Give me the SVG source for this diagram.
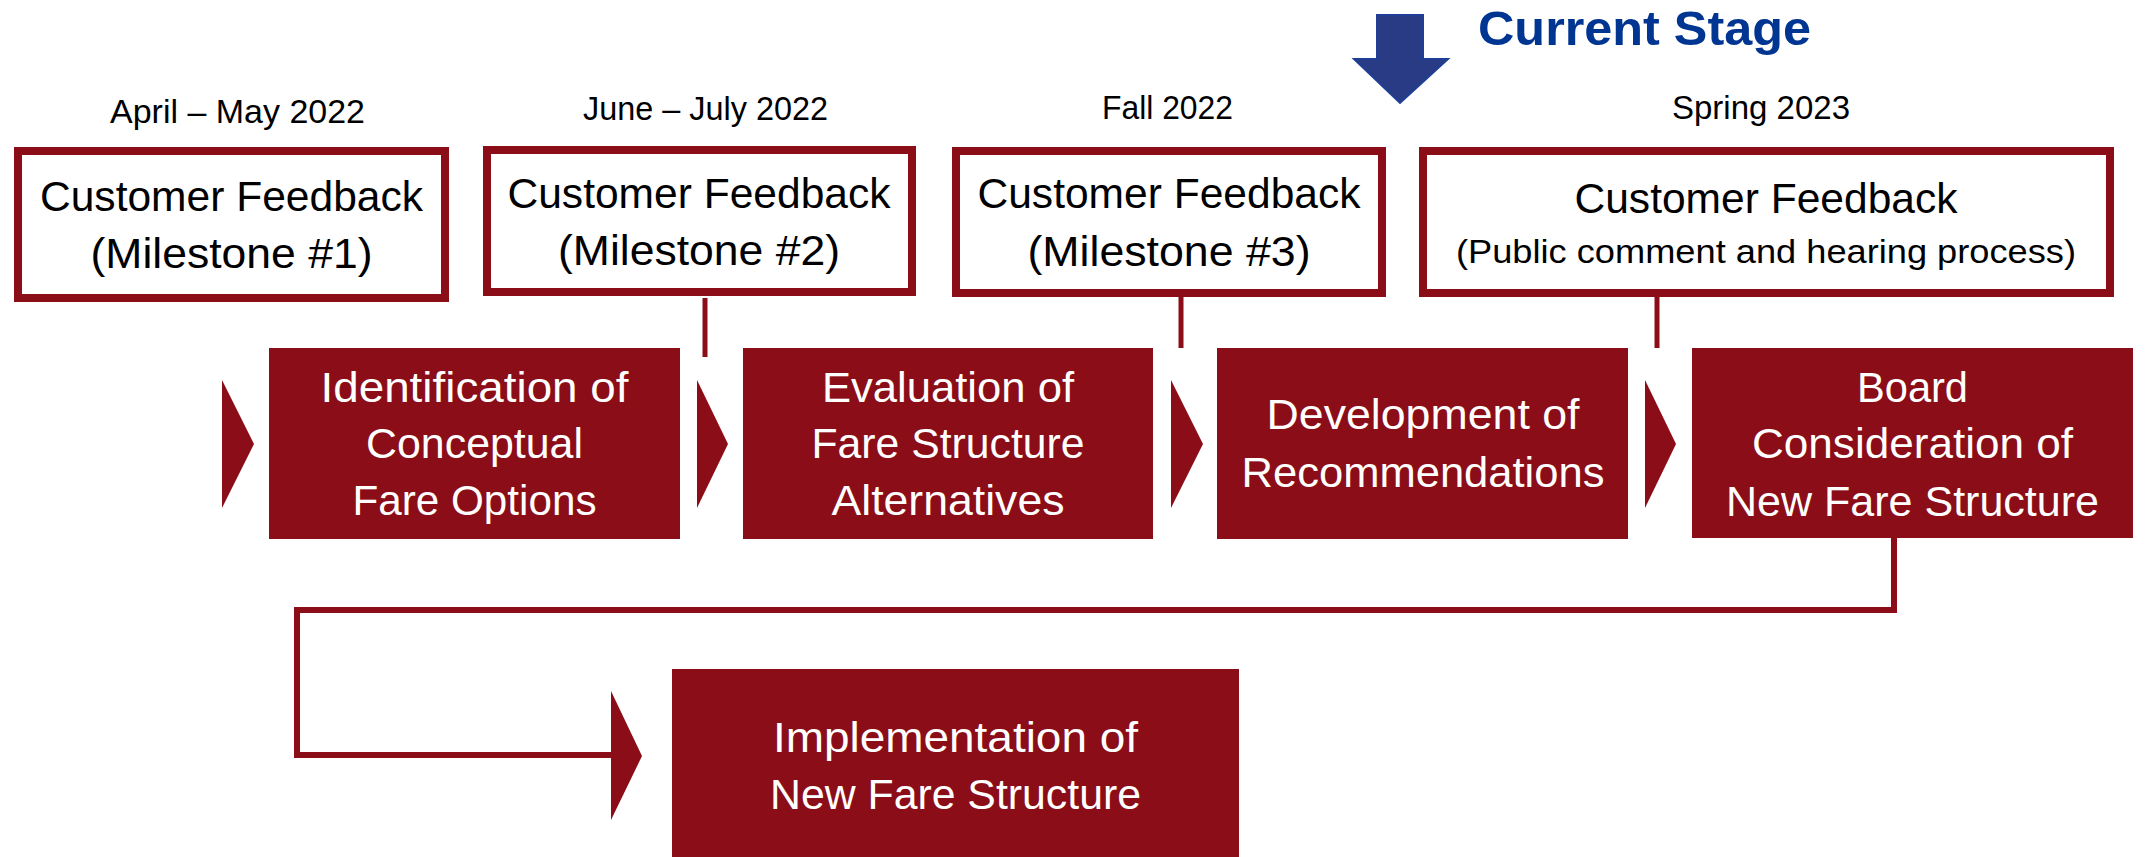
<svg xmlns="http://www.w3.org/2000/svg" width="2146" height="857" viewBox="0 0 2146 857">
<style>
.fb{fill:#ffffff;stroke:#8B0D18;stroke-width:8}
.step{fill:#8B0D18}
.t{font-family:"Liberation Sans",Arial,sans-serif;text-anchor:middle}
.fbt{font-size:42px;fill:#000}
.sm{font-size:34px;fill:#000}
.st{font-size:43px;fill:#fff}
.ln{stroke:#8B0D18;fill:none}
.chev{fill:#8B0D18}
</style>
<rect width="2146" height="857" fill="#fff"/>

<g id="current-stage">
<polygon points="1377,15 1423,15 1423,59 1448,59 1400,103 1354,59 1377,59" fill="#283B84" stroke="#1F3F96" stroke-width="2"/>
<text class="t" x="1644.5" y="45" font-size="48" font-weight="bold" fill="#003591" textLength="333" lengthAdjust="spacingAndGlyphs">Current Stage</text>
</g>

<g id="dates">
<text class="t sm" x="237.5" y="123" textLength="255" lengthAdjust="spacingAndGlyphs">April – May 2022</text>
<text class="t sm" x="705.5" y="120" textLength="245" lengthAdjust="spacingAndGlyphs">June – July 2022</text>
<text class="t sm" x="1167.5" y="119" textLength="131" lengthAdjust="spacingAndGlyphs">Fall 2022</text>
<text class="t sm" x="1761" y="119" textLength="178" lengthAdjust="spacingAndGlyphs">Spring 2023</text>
</g>

<g id="feedback1">
<rect class="fb" x="18" y="151" width="427" height="147"/>
<text class="t fbt" x="231.5" y="211" textLength="383" lengthAdjust="spacingAndGlyphs">Customer Feedback</text>
<text class="t fbt" x="231.5" y="268" textLength="282" lengthAdjust="spacingAndGlyphs">(Milestone #1)</text>
</g>
<g id="feedback2">
<rect class="fb" x="487" y="150" width="425" height="142"/>
<text class="t fbt" x="699" y="208" textLength="383" lengthAdjust="spacingAndGlyphs">Customer Feedback</text>
<text class="t fbt" x="699" y="265" textLength="282" lengthAdjust="spacingAndGlyphs">(Milestone #2)</text>
</g>
<g id="feedback3">
<rect class="fb" x="956" y="151" width="426" height="142"/>
<text class="t fbt" x="1169" y="208" textLength="383" lengthAdjust="spacingAndGlyphs">Customer Feedback</text>
<text class="t fbt" x="1169" y="266" textLength="283" lengthAdjust="spacingAndGlyphs">(Milestone #3)</text>
</g>
<g id="feedback4">
<rect class="fb" x="1423" y="151" width="687" height="142"/>
<text class="t fbt" x="1766" y="213" textLength="383" lengthAdjust="spacingAndGlyphs">Customer Feedback</text>
<text class="t sm" x="1766" y="263" textLength="620" lengthAdjust="spacingAndGlyphs">(Public comment and hearing process)</text>
</g>

<g id="connectors">
<line class="ln" x1="705" y1="298" x2="705" y2="357" stroke-width="5"/>
<line class="ln" x1="1181" y1="293" x2="1181" y2="348" stroke-width="5"/>
<line class="ln" x1="1657" y1="293" x2="1657" y2="348" stroke-width="5"/>
<path class="ln" d="M1894,538 V610 H297 V755 H613" stroke-width="6"/>
<polygon class="chev" points="222,380 254,444 222,508"/>
<polygon class="chev" points="697,380 728,444 697,508"/>
<polygon class="chev" points="1171,380 1203,444 1171,508"/>
<polygon class="chev" points="1645,380 1676,444 1645,508"/>
<polygon class="chev" points="611,691 642,756 611,820"/>
</g>

<g id="step1">
<rect class="step" x="269" y="348" width="411" height="191"/>
<text class="t st" x="474.5" y="402" textLength="308" lengthAdjust="spacingAndGlyphs">Identification of</text>
<text class="t st" x="474.5" y="458" textLength="217" lengthAdjust="spacingAndGlyphs">Conceptual</text>
<text class="t st" x="474.5" y="515" textLength="244" lengthAdjust="spacingAndGlyphs">Fare Options</text>
</g>
<g id="step2">
<rect class="step" x="743" y="348" width="410" height="191"/>
<text class="t st" x="948" y="402" textLength="252" lengthAdjust="spacingAndGlyphs">Evaluation of</text>
<text class="t st" x="948" y="458" textLength="273" lengthAdjust="spacingAndGlyphs">Fare Structure</text>
<text class="t st" x="948" y="515" textLength="233" lengthAdjust="spacingAndGlyphs">Alternatives</text>
</g>
<g id="step3">
<rect class="step" x="1217" y="348" width="411" height="191"/>
<text class="t st" x="1423" y="429" textLength="313" lengthAdjust="spacingAndGlyphs">Development of</text>
<text class="t st" x="1423" y="487" textLength="363" lengthAdjust="spacingAndGlyphs">Recommendations</text>
</g>
<g id="step4">
<rect class="step" x="1692" y="348" width="441" height="190"/>
<text class="t st" x="1912.5" y="402" textLength="111" lengthAdjust="spacingAndGlyphs">Board</text>
<text class="t st" x="1912.5" y="458" textLength="321" lengthAdjust="spacingAndGlyphs">Consideration of</text>
<text class="t st" x="1912.5" y="516" textLength="373" lengthAdjust="spacingAndGlyphs">New Fare Structure</text>
</g>
<g id="step5">
<rect class="step" x="672" y="669" width="567" height="188"/>
<text class="t st" x="955.5" y="752" textLength="365" lengthAdjust="spacingAndGlyphs">Implementation of</text>
<text class="t st" x="955.5" y="809" textLength="371" lengthAdjust="spacingAndGlyphs">New Fare Structure</text>
</g>
</svg>
